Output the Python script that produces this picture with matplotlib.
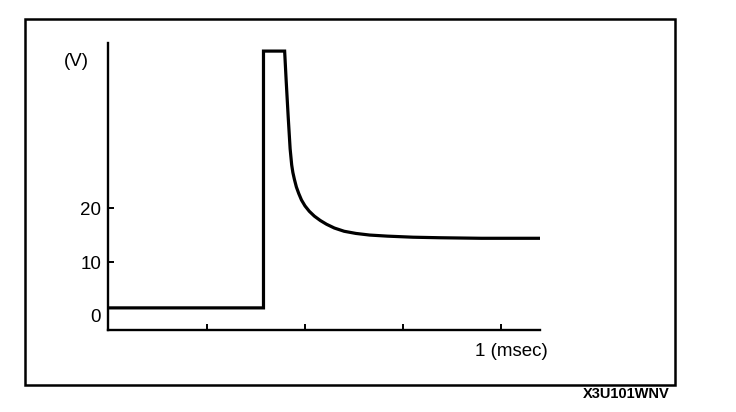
import matplotlib.pyplot as plt
import matplotlib.patches as patches

plt.rcParams['font.family'] = ['Liberation Sans', 'DejaVu Sans']

# Forma de onda (tiempo en ms, tension en V)
t_ms = [0.0, 0.394, 0.394, 0.448, 0.452, 0.457, 0.462, 0.466, 0.469, 0.473,
        0.478, 0.484, 0.491, 0.500, 0.511, 0.524, 0.539, 0.555, 0.575,
        0.600, 0.630, 0.665, 0.710, 0.776, 0.845, 0.95, 1.10]
volt = [1.5, 1.5, 49.1, 49.1, 43.5, 37.0, 31.0, 28.0, 26.6, 25.3,
        23.9, 22.7, 21.5, 20.4, 19.4, 18.5, 17.7, 17.0, 16.3,
        15.7, 15.3, 15.0, 14.8, 14.6, 14.5, 14.4, 14.4]

y_ticks = [0, 10, 20]
y_tick_labels = ['0', '10', '20']
x_ticks = [0.25, 0.5, 0.75, 1.0]

W, H = 736, 412
fig = plt.figure(figsize=(W / 100, H / 100), dpi=100)

# Marco exterior
marco = patches.Rectangle((25 / W, 1 - 385 / H), 650 / W, 366 / H,
                          transform=fig.transFigure, fill=False,
                          edgecolor='black', linewidth=1.8)
fig.patches.append(marco)

ax = fig.add_axes([108 / W, 1 - 330 / H, 432 / W, 287 / H])
ax.plot(t_ms, volt, color='black', linewidth=2.3, solid_joinstyle='miter')

ax.set_xlim(-0.003, 1.1)
ax.set_ylim(-2.6, 50.6)

ax.spines['top'].set_visible(False)
ax.spines['right'].set_visible(False)
ax.spines['left'].set_linewidth(1.7)
ax.spines['bottom'].set_linewidth(1.7)

ax.set_xticks(x_ticks)
ax.set_xticklabels([])
ax.set_yticks(y_ticks)
ax.set_yticklabels(y_tick_labels, fontsize=13.5)
ax.tick_params(axis='both', direction='in', length=4, width=1.4, pad=5)
ax.yaxis.get_major_ticks()[0].tick1line.set_visible(False)

# Etiquetas
fig.text(76 / W, 1 - 62 / H, '(V)', fontsize=13.5, ha='center', va='center')
fig.text(511 / W, 1 - 351 / H, '1 (msec)', fontsize=13.5, ha='center', va='center')
fig.text(626 / W, 1 - 394 / H, 'X3U101WNV', fontsize=10.5, ha='center',
         va='center', fontweight='bold')

fig.savefig('out.png', dpi=100)
